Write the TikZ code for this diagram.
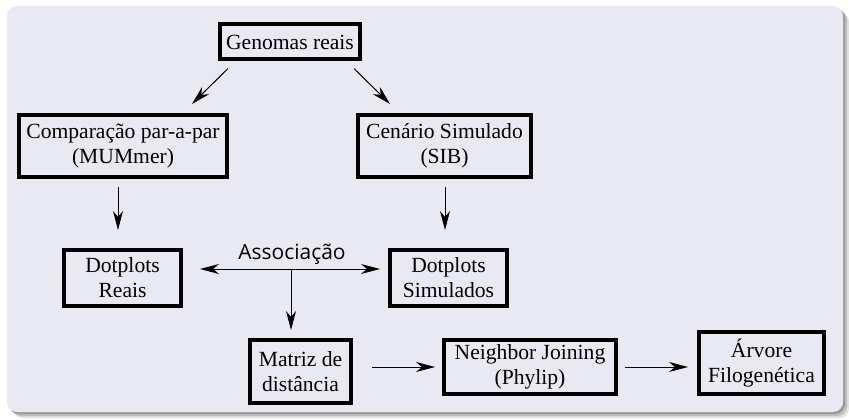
\documentclass[tikz,border=0pt]{standalone}
\usepackage{fontspec}
\setmainfont{Liberation Serif}
\newfontfamily\assocfont{Open Sans}
\usetikzlibrary{arrows.meta,calc}
\definecolor{panel}{RGB}{233,233,243}
\begin{document}
\begin{tikzpicture}[x=1pt,y=-1pt,
  box/.style={draw=black,line width=4pt,inner sep=0pt,align=center,
    font=\fontsize{21.6}{25}\selectfont},
  tip/.style={Stealth[length=19pt,width=10pt,inset=6pt]},
  arr/.style={line width=1pt,-{Stealth[length=19pt,width=10pt,inset=6pt]}},
  darr/.style={line width=1pt,{Stealth[length=19pt,width=10pt,inset=6pt]}-{Stealth[length=19pt,width=10pt,inset=6pt]}},
]
\useasboundingbox (0,0) rectangle (849,420);
\fill[black!12,rounded corners=10pt] (13,12) rectangle (849,418);
\fill[black!25,rounded corners=10pt] (11,10) rectangle (847,416);
\fill[black!40,rounded corners=10pt] (9,8) rectangle (845,414);
\fill[panel,rounded corners=10pt] (7,6) rectangle (843,412);

\node[box,minimum width=140pt,minimum height=35pt] (gen) at (290,42) {Genomas reais};
\node[box,minimum width=208pt,minimum height=62pt] (comp) at (123,146) {Comparação par-a-par\\(MUMmer)};
\node[box,minimum width=173pt,minimum height=62pt] (cen) at (444.5,146) {Cenário Simulado\\(SIB)};
\node[box,minimum width=117pt,minimum height=56pt] (dreais) at (122.5,278) {Dotplots\\Reais};
\node[box,minimum width=117pt,minimum height=56pt] (dsim) at (448.5,278) {Dotplots\\Simulados};
\node[box,minimum width=101pt,minimum height=63pt] (matriz) at (300.5,371.5) {Matriz de\\distância};
\node[box,minimum width=172pt,minimum height=54pt] (nj) at (530,367) {Neighbor Joining\\(Phylip)};
\node[box,minimum width=125pt,minimum height=62pt] (arv) at (761.5,363) {Árvore\\Filogenética};

\node[font=\assocfont\fontsize{21}{24}\selectfont,inner sep=0pt] (assoc) at (292,254) {Associação};
\coordinate (ap) at (291,269);

\draw[arr] ($(gen.south west)+(10,7)$) -- ($(comp.north)+(69,-9)$);
\draw[arr] ($(gen.south east)+(-8,7)$) -- ($(cen.north)+(-54.5,-9)$);
\draw[arr] ($(comp.south)+(-5,8)$) -- ($(dreais.north)+(-4.5,-18)$);
\draw[arr] ($(cen.south)+(0.5,8)$) -- ($(dsim.north)+(-3.5,-18)$);
\draw[darr] ($(dreais.east |- ap)+(17,0)$) -- ($(dsim.west |- ap)+(-8,0)$);
\draw[arr] (ap) -- ($(matriz.north)+(-9.5,-8)$);
\draw[arr] ($(matriz.east)+(19,-4.5)$) -- ($(nj.west)+(-7,0)$);
\draw[arr] ($(nj.east)+(7,0)$) -- ($(arv.west)+(-9,4)$);
\end{tikzpicture}
\end{document}
